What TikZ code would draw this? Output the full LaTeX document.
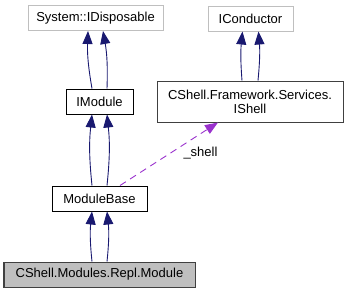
\documentclass[tikz,border=0pt]{standalone}
\usepackage{fontspec}
\setmainfont{Liberation Sans}
\usetikzlibrary{arrows.meta}
\definecolor{inhblue}{HTML}{191970}
\definecolor{usepurple}{HTML}{9A32CD}
\definecolor{extgray}{HTML}{BFBFBF}
\definecolor{boxgray}{HTML}{404040}
\begin{document}
\begin{tikzpicture}[x=1pt,y=-1pt,
  every node/.style={font=\fontsize{13}{14}\selectfont, inner sep=0pt, align=center},
  classbox/.style={draw=black, line width=1pt, fill=white, minimum height=25pt},
  extbox/.style={classbox, draw=extgray},
  inherit/.style={draw=inhblue, line width=0.9pt, -{Triangle[length=13pt,width=10pt]}},
  uses/.style={draw=usepurple, line width=0.9pt, dash pattern=on 7pt off 5pt, -{Triangle[length=13pt,width=10pt]}}]
\useasboundingbox (0,0) rectangle (349,293);

% classes
\node[extbox, minimum width=135pt] (disp) at (95.5,18) {System::IDisposable};
\node[extbox, minimum width=85pt] (cond) at (250.5,18.5) {IConductor};
\node[classbox, minimum width=67pt] (imod) at (99.5,101.5) {IModule};
\node[classbox, draw=boxgray, minimum width=186pt, minimum height=41pt] (shell) at (250,101.5) {CShell.Framework.Services.\\IShell};
\node[classbox, minimum width=95pt] (mbase) at (99.5,198.5) {ModuleBase};
\node[classbox, draw=boxgray, fill=extgray, minimum width=191pt] (repl) at (99.5,274.5) {CShell.Modules.Repl.Module};

% inheritance
\draw[inherit] ([xshift=-7.5pt]imod.north) to[bend left=6] ([xshift=-7.5pt]disp.south);
\draw[inherit] ([xshift=7.5pt]imod.north) to[bend right=6] ([xshift=7.5pt]disp.south);
\draw[inherit] ([xshift=-8pt]shell.north) to[bend left=5] ([xshift=-8pt]cond.south);
\draw[inherit] ([xshift=8pt]shell.north) to[bend right=5] ([xshift=8pt]cond.south);
\draw[inherit] ([xshift=-7.5pt]mbase.north) to[bend left=6] ([xshift=-7.5pt]imod.south);
\draw[inherit] ([xshift=7.5pt]mbase.north) to[bend right=6] ([xshift=7.5pt]imod.south);
\draw[inherit] ([xshift=-7.5pt]repl.north) to[bend left=6] ([xshift=-7.5pt]mbase.south);
\draw[inherit] ([xshift=7.5pt]repl.north) to[bend right=6] ([xshift=7.5pt]mbase.south);

% usage
\draw[uses] ([xshift=20.5pt]mbase.north) -- ([xshift=-32pt]shell.south);
\node (lbl) at (200.5,153) {\_shell};
\end{tikzpicture}
\end{document}
